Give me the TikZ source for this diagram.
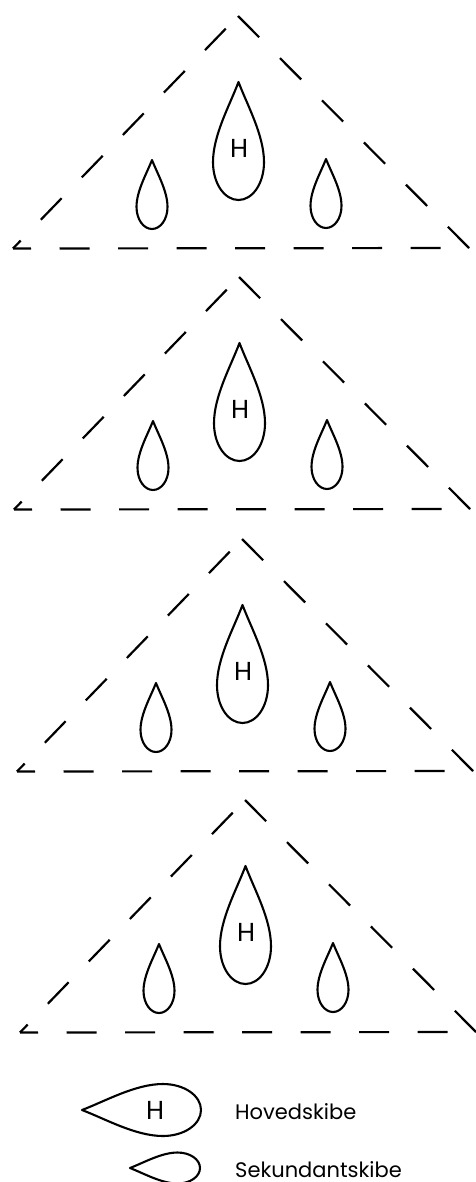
\documentclass[tikz,border=0pt]{standalone}
\usepackage{fontspec}
\setmainfont{Poppins}
\begin{document}
\begin{tikzpicture}[x=1pt,y=-1pt]
\tikzset{
  tri/.style={line width=2.2pt, line cap=butt},
  shipline/.style={line width=2.1pt, line join=round},
  hlabel/.style={inner sep=0pt, font=\fontsize{26}{30}\selectfont},
  legtext/.style={anchor=base west, inner sep=0pt, font=\fontsize{21}{25}\selectfont},
  pics/drop/.style 2 args={code={
    \draw[shipline] (0,0) .. controls (0.35*#2,0.2*#1) and (#2,0.45*#1) .. (#2,0.68*#1)
      .. controls (#2,0.86*#1) and (0.55*#2,#1) .. (0,#1)
      .. controls (-0.55*#2,#1) and (-#2,0.86*#1) .. (-#2,0.68*#1)
      .. controls (-#2,0.45*#1) and (-0.35*#2,0.2*#1) .. cycle;
  }}
}
\useasboundingbox (0,0) rectangle (476,1182);
\foreach \ax/\ay [count=\i] in {238/16, 239/277, 242/539, 245/800}{
  \coordinate (A\i) at (\ax,\ay);
  \coordinate (L\i) at (\ax-225,\ay+232.5);
  \coordinate (R\i) at (\ax+231,\ay+232);
  \draw[tri, dash pattern=on 30pt off 29pt, dash phase=19pt] (L\i) -- (A\i);
  \draw[tri, dash pattern=on 30pt off 29.5pt] (A\i) -- (R\i);
  \draw[tri, dash pattern=on 30pt off 28.5pt, dash phase=12pt] (L\i) -- (R\i);
  \pic (main\i) at (\ax+0.5,\ay+66) {drop={118}{25.5}};
  \node[hlabel] (h\i) at (\ax+1,\ay+132) {H};
  \pic (secl\i) at (\ax-86,\ay+144) {drop={69}{15.5}};
  \pic (secr\i) at (\ax+88,\ay+143) {drop={69}{15.5}};
}
\pic[rotate=90] (legmain) at (82,1110) {drop={119}{26}};
\node[hlabel] (legh) at (155,1110) {H};
\pic[rotate=90] (legsec) at (130,1168) {drop={70}{15.5}};
\node[legtext] (t1) at (235,1119) {Hovedskibe};
\node[legtext] (t2) at (235,1177) {Sekundantskibe};
\end{tikzpicture}
\end{document}
